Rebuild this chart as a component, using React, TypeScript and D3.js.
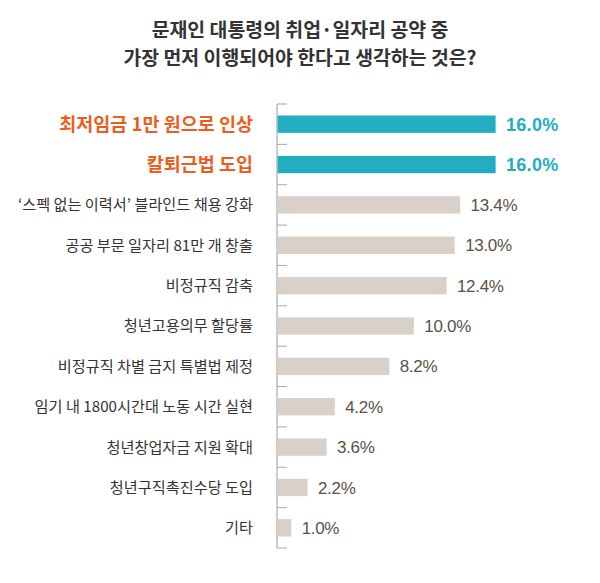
import { useEffect, useRef } from "react";
import * as d3 from "d3";

const WIDTH = 600;
const HEIGHT = 583;
const MARGIN = { top: 104, right: 60, bottom: 35, left: 277 };

const titleLines = [
  "문재인 대통령의 취업·일자리 공약 중",
  "가장 먼저 이행되어야 한다고 생각하는 것은?",
];

const categories = [
  "최저임금 1만 원으로 인상",
  "칼퇴근법 도입",
  "‘스펙 없는 이력서’ 블라인드 채용 강화",
  "공공 부문 일자리 81만 개 창출",
  "비정규직 감축",
  "청년고용의무 할당률",
  "비정규직 차별 금지 특별법 제정",
  "임기 내 1800시간대 노동 시간 실현",
  "청년창업자금 지원 확대",
  "청년구직촉진수당 도입",
  "기타",
];
const values = [16.0, 16.0, 13.4, 13.0, 12.4, 10.0, 8.2, 4.2, 3.6, 2.2, 1.0];
const highlighted = [true, true, false, false, false, false, false, false, false, false, false];

const TEAL = "#22adc3";
const GRAY_BAR = "#d9d1c9";
const ORANGE = "#ea5f1e";

const App = () => {
  const ref = useRef(null);

  useEffect(() => {
    document.body.style.margin = "0";
    const svg = d3.select(ref.current);
    svg.selectAll("*").remove();

    const boundsHeight = HEIGHT - MARGIN.top - MARGIN.bottom;

    const x = d3.scaleLinear().domain([0, 16]).range([MARGIN.left, MARGIN.left + 218]);
    const y = d3
      .scaleBand()
      .domain(categories)
      .range([MARGIN.top, MARGIN.top + boundsHeight])
      .paddingInner(0.57)
      .paddingOuter(0.285);
    const step = y.step();

    // title
    svg
      .append("g")
      .selectAll("text")
      .data(titleLines)
      .join("text")
      .attr("x", WIDTH / 2)
      .attr("y", (d, i) => 30 + i * 28.5)
      .attr("dy", "0.36em")
      .attr("text-anchor", "middle")
      .attr("font-family", "'Noto Sans CJK KR', sans-serif")
      .attr("font-size", 19.4)
      .attr("font-weight", 700)
      .attr("fill", "#333")
      .text((d) => d);

    // axis line + ticks at band edges
    const tickYs = categories.map((c) => (y(c) as number) - (step * 0.57) / 2);
    tickYs.push(MARGIN.top + boundsHeight);
    svg
      .append("line")
      .attr("x1", MARGIN.left)
      .attr("x2", MARGIN.left)
      .attr("y1", MARGIN.top)
      .attr("y2", MARGIN.top + boundsHeight)
      .attr("stroke", "#aaa")
      .attr("stroke-width", 1.2);
    svg
      .append("g")
      .selectAll("line")
      .data(tickYs)
      .join("line")
      .attr("x1", MARGIN.left)
      .attr("x2", MARGIN.left + 10)
      .attr("y1", (d) => d)
      .attr("y2", (d) => d)
      .attr("stroke", "#aaa")
      .attr("stroke-width", 1);

    // bars
    svg
      .append("g")
      .selectAll("rect")
      .data(categories)
      .join("rect")
      .attr("x", x(0) + 0.6)
      .attr("y", (d) => y(d) as number)
      .attr("width", (d, i) => x(values[i]) - x(0))
      .attr("height", y.bandwidth())
      .attr("fill", (d, i) => (highlighted[i] ? TEAL : GRAY_BAR));

    // category labels
    svg
      .append("g")
      .selectAll("text")
      .data(categories)
      .join("text")
      .attr("x", 253)
      .attr("y", (d) => (y(d) as number) + y.bandwidth() / 2)
      .attr("dy", "0.36em")
      .attr("text-anchor", "end")
      .attr("font-family", "'Noto Sans CJK KR', sans-serif")
      .attr("font-size", (d, i) => (highlighted[i] ? 18.5 : 15.2))
      .attr("font-weight", (d, i) => (highlighted[i] ? 700 : 400))
      .attr("fill", (d, i) => (highlighted[i] ? ORANGE : "#333"))
      .text((d) => d);

    // value labels
    svg
      .append("g")
      .selectAll("text")
      .data(values)
      .join("text")
      .attr("x", (d) => x(d) + 11)
      .attr("y", (d, i) => (y(categories[i]) as number) + y.bandwidth() / 2)
      .attr("dy", "0.36em")
      .attr("font-family", "'Liberation Sans', sans-serif")
      .attr("font-size", (d, i) => (highlighted[i] ? 18 : 17))
      .attr("font-weight", (d, i) => (highlighted[i] ? 700 : 400))
      .attr("letter-spacing", (d, i) => (highlighted[i] ? 0.3 : -0.3))
      .attr("fill", (d, i) => (highlighted[i] ? TEAL : "#5b5147"))
      .text((d) => d.toFixed(1) + "%");
  }, []);

  return <svg ref={ref} width={WIDTH} height={HEIGHT} style={{ display: "block", background: "#fff" }}></svg>;
};

export default App;
